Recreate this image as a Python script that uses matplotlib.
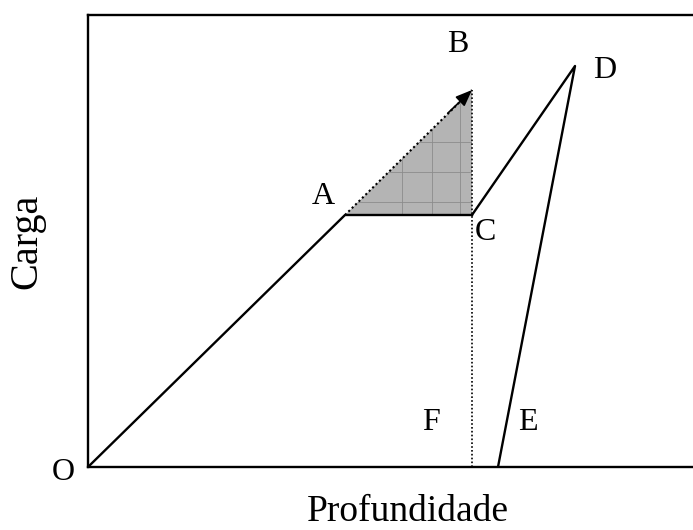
import matplotlib.pyplot as plt
import numpy as np
from matplotlib.patches import Polygon

plt.rcParams['font.family'] = ['Liberation Serif', 'DejaVu Serif']

# curve points (depth, load)
load_x = [0, 257, 384]
load_y = [0, 252, 252]
reload_x = [384, 487, 410]
reload_y = [252, 401, 0]
tri_x = [257, 384, 384]
tri_y = [252, 377, 252]
point_names = ['O', 'A', 'B', 'C', 'D', 'E', 'F']
point_x = [-25, 235, 370, 397, 517, 440, 343]
point_y = [-6, 270, 423, 234, 396, 45, 45]

fig = plt.figure(figsize=(6.93, 5.30), dpi=100)
ax = fig.add_axes([88/693, 63/530, 640/693, 452/530])
ax.set_xlim(0, 640)
ax.set_ylim(0, 452)

ax.plot(load_x, load_y, color='black', lw=1.7)
ax.plot(reload_x, reload_y, color='black', lw=1.7)

tri = Polygon(list(zip(tri_x, tri_y)), closed=True, facecolor='#b4b4b4',
              edgecolor='none', zorder=1)
ax.add_patch(tri)
for gx in [314, 344, 372]:
    l, = ax.plot([gx, gx], [0, 452], color='#8c8c8c', lw=0.6, zorder=1.5)
    l.set_clip_path(tri)
for gy in [265, 295, 325]:
    l, = ax.plot([0, 640], [gy, gy], color='#8c8c8c', lw=0.6, zorder=1.5)
    l.set_clip_path(tri)

ax.plot([tri_x[0], tri_x[1]], [tri_y[0], tri_y[1]], color='black', lw=1.5,
        ls=(0, (1, 1.3)), zorder=3)
ax.plot([384, 384], [0, 377], color='black', lw=1.2, ls=(0, (1, 1.3)), zorder=3)
ax.annotate('', xy=(384, 377), xytext=(360, 354),
            arrowprops=dict(arrowstyle='-|>,head_length=1.0,head_width=0.4',
                            color='black', lw=1.2, shrinkA=0, shrinkB=0),
            zorder=4)

for n, px, py in zip(point_names, point_x, point_y):
    ax.text(px, py, n, fontsize=23, ha='center', va='center')

ax.spines['right'].set_visible(False)
for s in ['left', 'top', 'bottom']:
    ax.spines[s].set_linewidth(1.7)
ax.set_xticks([])
ax.set_yticks([])
ax.set_xlabel('Profundidade', fontsize=27, labelpad=20)
ax.set_ylabel('Carga', fontsize=29, labelpad=31)

fig.savefig('out.png', dpi=100)
